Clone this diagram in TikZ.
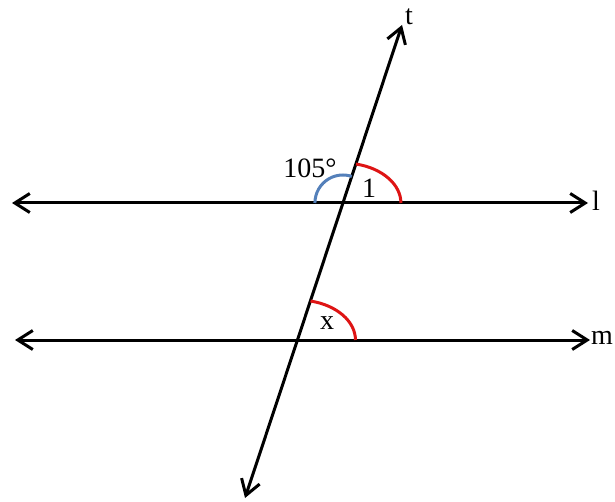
\documentclass[tikz,border=0pt]{standalone}
\usepackage{fontspec}
\setmainfont{Liberation Serif}
\usetikzlibrary{arrows.meta, calc}

\begin{document}
\begin{tikzpicture}[
    x=1pt, y=1pt,
    >={Straight Barb[length=15pt, width=19pt]},
    line/.style={<->, line width=3pt, black},
    angred/.style={line width=3pt, draw={rgb,255:red,222;green,20;blue,20}},
    angblue/.style={line width=3pt, draw={rgb,255:red,84;green,128;blue,186}},
    lbl/.style={font=\fontsize{28}{30}\selectfont, inner sep=0pt}
]
\useasboundingbox (0,0) rectangle (615,501);

% Points
\coordinate (lA) at (12,298);
\coordinate (lB) at (588,298);
\coordinate (mA) at (15,161);
\coordinate (mB) at (590,161);
\coordinate (tA) at (245,3);
\coordinate (tB) at (402,476);
\coordinate (P) at (intersection of lA--lB and tA--tB);
\coordinate (Q) at (intersection of mA--mB and tA--tB);

% Lines
\draw[line] (lA) -- (lB);
\draw[line] (mA) -- (mB);
\draw[line] (tA) -- (tB);

% Angles
\draw[angblue] ($(P)+(-28,0)$) arc[start angle=180, end angle=71.6, radius=28];
\draw[angred] ($(P)+(58,0)$) arc[start angle=0, end angle=77, x radius=58, y radius=40];
\draw[angred] ($(Q)+(58,0)$) arc[start angle=0, end angle=77, x radius=58, y radius=40];

% Labels
\node[lbl] (ang105) at (310,333) {105°};
\node[lbl] (ang1) at (369,313) {1};
\node[lbl] (angx) at (327,178) {x};
\node[lbl, anchor=west] (labl) at (592,300) {l};
\node[lbl, anchor=west] (labm) at (591,163) {m};
\node[lbl] (labt) at (409,484) {t};
\end{tikzpicture}
\end{document}
